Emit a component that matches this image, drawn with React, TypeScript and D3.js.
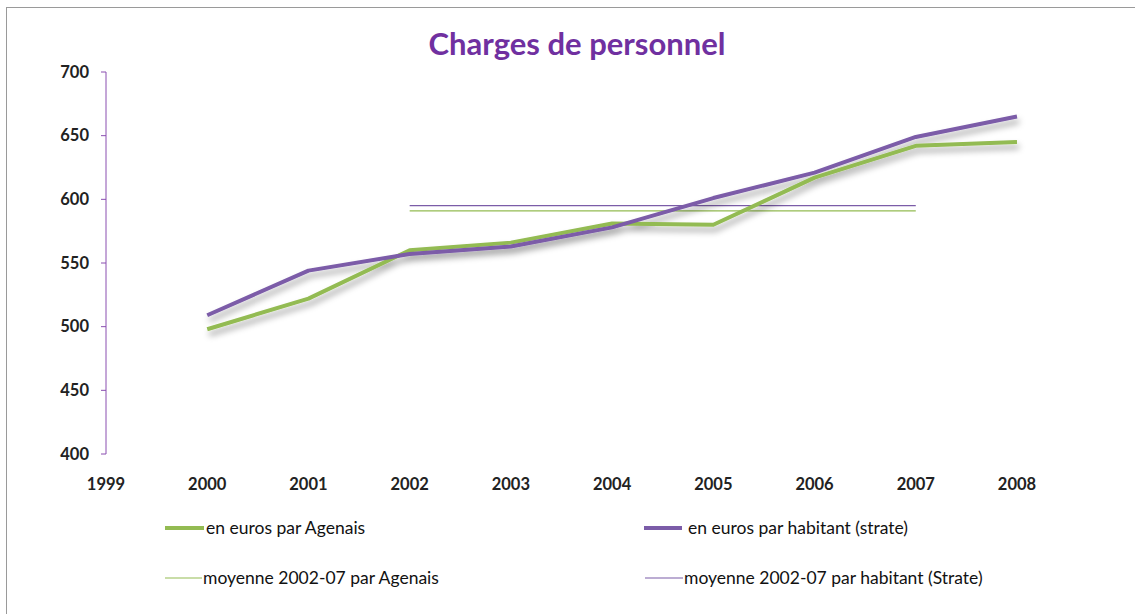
import * as React from "react";
import * as d3 from "d3";

const years = [2000, 2001, 2002, 2003, 2004, 2005, 2006, 2007, 2008];
const xTicks = [1999, 2000, 2001, 2002, 2003, 2004, 2005, 2006, 2007, 2008];
const yTicks = [400, 450, 500, 550, 600, 650, 700];

const agenais = [498, 522, 560, 566, 581, 580, 617, 642, 645];
const strate = [509, 544, 557, 563, 578, 601, 621, 649, 665];

const avgYears = [2002, 2007];
const avgAgenais = 591;
const avgStrate = 595;

const legendLabels = [
  "en euros par Agenais",
  "en euros par habitant (strate)",
  "moyenne 2002-07 par Agenais",
  "moyenne 2002-07 par habitant (Strate)",
];

const green = "#93bb52";
const purple = "#7b5ca8";
const font = "Lato, 'Open Sans', sans-serif";

export default function App() {
  const width = 1135;
  const height = 614;

  const x = d3.scaleLinear().domain([1999, 2008]).range([106, 1017]);
  const y = d3.scaleLinear().domain([400, 700]).range([454, 72]);

  const line = d3
    .line<number>()
    .x((d, i) => x(years[i]))
    .y((d) => y(d));

  const flat = (v: number) =>
    d3
      .line<number>()
      .x((d) => x(d))
      .y(() => y(v))(avgYears);

  return (
    <svg
      width={width}
      height={height}
      style={{ position: "absolute", left: 0, top: 0, background: "#fff" }}
    >
      <defs>
        <filter id="shadow" x="-10%" y="-30%" width="120%" height="180%">
          <feDropShadow dx="2" dy="5" stdDeviation="3" floodColor="#000" floodOpacity="0.35" />
        </filter>
      </defs>
      <rect x={6.5} y={7.5} width={1140} height={620} fill="#fff" stroke="#9a9a9a" />

      <text
        x={577}
        y={55}
        textAnchor="middle"
        fontFamily={font}
        fontWeight="bold"
        fontSize={31}
        fill="#7030a0"
      >
        Charges de personnel
      </text>

      {/* y axis */}
      <line x1={106} x2={106} y1={y(700)} y2={y(400)} stroke="#8a4fb0" strokeWidth={1} />
      {yTicks.map((t) => (
        <g key={t}>
          <line x1={101} x2={106} y1={y(t)} y2={y(t)} stroke="#8a4fb0" />
          <text
            x={89}
            y={y(t)}
            dy="0.35em"
            textAnchor="end"
            fontFamily={font}
            fontWeight="bold"
            fontSize={16.5}
            fill="#222"
          >
            {t}
          </text>
        </g>
      ))}

      {/* x labels */}
      {xTicks.map((t) => (
        <text
          key={t}
          x={x(t)}
          y={490}
          textAnchor="middle"
          fontFamily={font}
          fontWeight="bold"
          fontSize={16.5}
          fill="#222"
        >
          {t}
        </text>
      ))}

      {/* average lines */}
      <path d={flat(avgStrate) || ""} fill="none" stroke={purple} strokeWidth={1.2} />
      <path d={flat(avgAgenais) || ""} fill="none" stroke={green} strokeWidth={1.2} />

      {/* series */}
      <g filter="url(#shadow)">
        <path d={line(agenais) || ""} fill="none" stroke={green} strokeWidth={4} strokeLinejoin="round" />
        <path d={line(strate) || ""} fill="none" stroke={purple} strokeWidth={4} strokeLinejoin="round" />
      </g>

      {/* legend */}
      <g fontFamily={font} fontSize={17.5} fill="#111">
        <line x1={165} x2={204} y1={528} y2={528} stroke={green} strokeWidth={4} />
        <text x={206} y={528} dy="0.35em">{legendLabels[0]}</text>
        <line x1={644} x2={682} y1={528} y2={528} stroke={purple} strokeWidth={4} />
        <text x={688} y={528} dy="0.35em">{legendLabels[1]}</text>
        <line x1={165} x2={202} y1={578} y2={578} stroke={green} strokeWidth={1.2} />
        <text x={203} y={578} dy="0.35em">{legendLabels[2]}</text>
        <line x1={645} x2={683} y1={578} y2={578} stroke={purple} strokeWidth={1.2} />
        <text x={684} y={578} dy="0.35em">{legendLabels[3]}</text>
      </g>
    </svg>
  );
}
